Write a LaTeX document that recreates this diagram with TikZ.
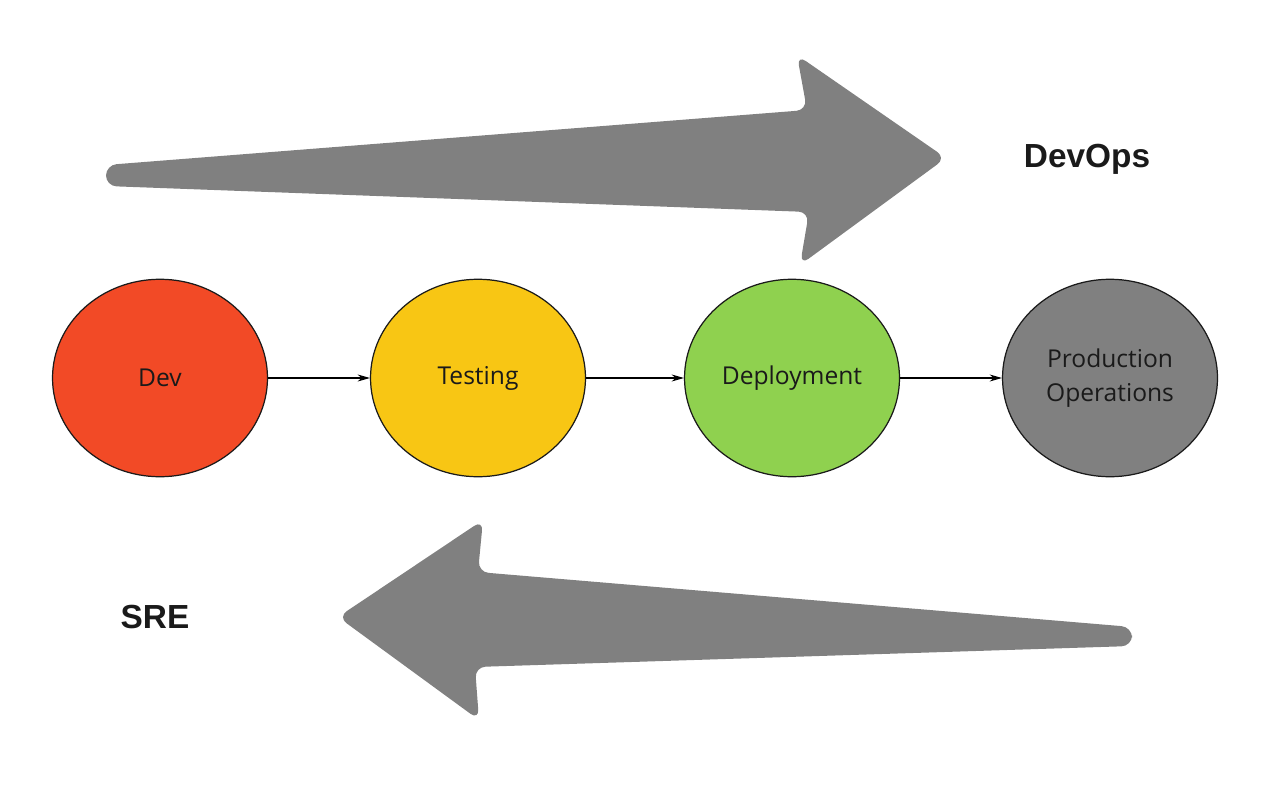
\documentclass[tikz,border=0pt]{standalone}
\usepackage{fontspec}
\setmainfont{Open Sans}
\newfontfamily\labelfont{Liberation Sans}
\usetikzlibrary{arrows.meta,positioning,shapes.geometric}
\definecolor{devred}{HTML}{F24A26}
\definecolor{testyellow}{HTML}{F8C614}
\definecolor{deploygreen}{HTML}{8FD14F}
\definecolor{opsgray}{HTML}{808080}
\definecolor{stageink}{HTML}{1A1A1A}

\begin{document}
\begin{tikzpicture}[x=0.02cm, y=-0.02cm, >={Stealth[length=7pt, width=4pt]}]
  \useasboundingbox (0,0) rectangle (1270,787);
  \tikzset{
    stage/.style={draw=stageink, line width=0.7pt, ellipse, minimum width=4.3cm, minimum height=3.95cm, inner sep=0pt, align=center, text=stageink, font=\fontsize{14}{19}\selectfont},
    flow/.style={->, line width=0.6pt},
    bigarrow/.style={fill=opsgray, rounded corners=6pt},
    team/.style={font=\labelfont\bfseries\fontsize{19}{21}\selectfont, text=stageink}
  }
  % pipeline stages
  \node[stage, fill=devred] (dev) at (160,378) {Dev};
  \node[stage, fill=testyellow] (test) at (478,378) {Testing};
  \node[stage, fill=deploygreen] (deploy) at (792,378) {Deployment};
  \node[stage, fill=opsgray] (prod) at (1110,378) {Production\\Operations};
  \draw[flow] (dev) -- (test);
  \draw[flow] (test) -- (deploy);
  \draw[flow] (deploy) -- (prod);
  % big arrows
  \fill[bigarrow] (106,165) -- (807,110) -- (797,55) -- (946,158) -- (800,265) -- (809,212) -- (106,186) -- cycle;
  \fill[bigarrow] (1132,627) -- (478,572) -- (483,520) -- (338,617) -- (479,720) -- (475,667) -- (1132,646) -- cycle;
  \node[team] (devops) at (1087,159) {DevOps};
  \node[team] (sre) at (155,617) {SRE};
\end{tikzpicture}
\end{document}
